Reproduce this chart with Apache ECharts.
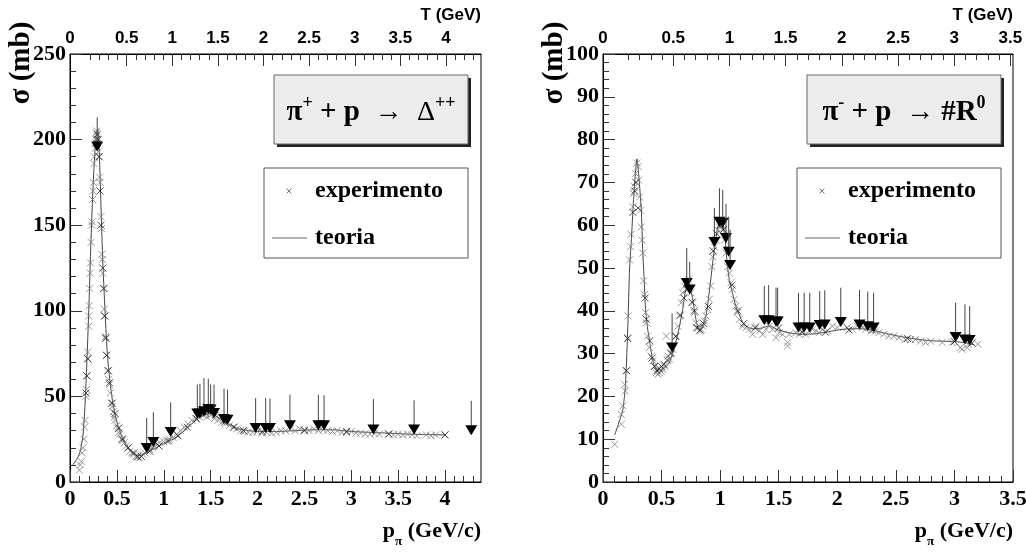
<!DOCTYPE html>
<html>
<head>
<meta charset="utf-8">
<script src="https://cdn.jsdelivr.net/npm/echarts@6/dist/echarts.min.js"></script>
<style>
  html, body { margin: 0; padding: 0; background: #fff; }
  #main { width: 1026px; height: 552px; }
</style>
</head>
<body>
<div id="main"></div>
<script>
// ---- pi+ p (left panel) ----
var theoryL = [[0.03,10],[0.08,14],[0.11,18],[0.14,28],[0.16,45],[0.18,70],[0.2,100],[0.22,135],[0.24,165],
  [0.26,188],[0.28,203],[0.295,206],[0.31,196],[0.33,162],[0.35,128],[0.37,104],[0.39,82],[0.41,67],[0.43,57],
  [0.46,45],[0.5,35],[0.55,27],[0.6,22],[0.65,18],[0.7,16],[0.75,15.5],[0.8,16.5],[0.9,19.5],[1.0,22.5],[1.1,25],
  [1.2,29],[1.3,34],[1.4,38.5],[1.5,40],[1.6,37],[1.7,33.5],[1.8,31],[1.9,30],[2.0,29.5],[2.2,29.5],[2.4,30],
  [2.6,30.5],[2.8,30.5],[3.0,29.5],[3.2,29],[3.4,28.5],[3.6,28],[3.8,27.7],[4.0,27.5]];
var expGrayL = [[0.10,7],[0.11,10],[0.12,12],[0.13,17],[0.14,20],[0.15,25],[0.155,32],[0.16,36],[0.17,50],[0.175,54],
  [0.18,62],[0.19,72],[0.19,76],[0.2,91],[0.2,97],[0.205,103],[0.21,113],[0.215,122],[0.22,128],[0.225,140],
  [0.23,150],[0.235,152],[0.24,165],[0.245,170],[0.25,175],[0.255,186],[0.26,190],[0.27,195],[0.275,200],[0.28,204],
  [0.285,205],[0.29,200],[0.30,198],[0.305,193],[0.31,190],[0.315,178],[0.32,175],[0.33,155],[0.335,148],[0.34,133],
  [0.345,130],[0.35,122],[0.36,113],[0.365,101],[0.37,97],[0.38,85],[0.385,84],[0.39,74],[0.40,65],[0.41,60],
  [0.42,57],[0.43,52],[0.44,46],[0.45,44],[0.46,41],[0.47,38],[0.48,36],[0.5,33],[0.51,31],[0.52,29],[0.53,28],
  [0.55,25],[0.56,24],[0.58,23],[0.6,21],[0.62,20],[0.64,18],[0.66,17],[0.68,16],[0.7,15],[0.72,14.5],[0.74,14],
  [0.76,15],[0.78,16],[0.8,17],[0.82,18],[0.85,19],[0.88,20],[0.9,21],[0.93,22],[0.96,23],[1.0,23.5],[1.03,24],
  [1.06,25],[1.1,26],[1.14,28],[1.18,30],[1.22,32],[1.26,34],[1.3,36],[1.34,37],[1.38,38],[1.42,39],[1.46,38],
  [1.5,39],[1.54,37],[1.58,36],[1.62,35],[1.66,34],[1.7,33],[1.74,32],[1.78,31],[1.82,30],[1.86,29.5],[1.9,29],
  [1.95,29],[2.0,29.5],[2.05,28.5],[2.1,29],[2.15,28.5],[2.2,29],[2.25,30],[2.3,30],[2.35,31],[2.4,30],[2.45,31],
  [2.5,30.5],[2.55,30],[2.6,31],[2.65,30],[2.7,30.5],[2.75,30],[2.8,29.5],[2.85,30],[2.9,29],[2.95,29],[3.0,29.5],
  [3.05,28.5],[3.1,28.5],[3.15,28],[3.2,28],[3.25,28.5],[3.3,28],[3.4,28],[3.45,27.5],[3.5,28],[3.55,27.5],[3.6,28],
  [3.65,27.5],[3.7,27],[3.8,27.5],[3.85,27],[3.9,27.5],[4.0,27.5]];
var expDarkL = [[0.17,52],[0.18,62],[0.19,72],[0.28,198],[0.29,203],[0.3,200],[0.31,190],[0.32,170],[0.33,150],
  [0.35,125],[0.36,113],[0.37,97],[0.38,84],[0.39,74],[0.41,65],[0.42,58],[0.45,46],[0.48,40],[0.52,31.5],[0.56,25],
  [0.62,20],[0.68,17],[0.72,15],[0.76,15],[0.85,18],[0.95,21],[1.05,24],[1.15,27],[1.25,32],[1.35,37],[1.45,40],
  [1.55,39],[1.65,35],[1.75,32],[1.85,30],[2.05,29.5],[2.5,30],[2.95,29.5],[3.4,28],[4.0,27.5]];
// [p, sigma, top of line]
var limitsL = [[0.29,196,213],[0.818,19.9,37.4],[0.889,23.4,40.7],[1.074,29.2,46.5],[1.358,40,56.9],[1.386,40,57.4],
  [1.429,41.3,60.7],[1.475,42.6,60.4],[1.5,42.3,56.9],[1.536,40.3,56.9],[1.643,36.8,54.5],[1.68,36.4,53.9],
  [1.98,31.5,49],[2.087,31.5,49],[2.133,31.5,48.7],[2.346,33.1,51],[2.649,33.1,51],[2.71,33.1,50.6],
  [3.236,30.6,48.5],[3.67,30.6,47.7],[4.28,30.2,47.5]];

// ---- pi- p (right panel) ----
var theoryR = [[0.1,11],[0.15,15],[0.17,17],[0.19,22],[0.205,31],[0.215,39],[0.227,50],[0.241,56],[0.261,66],
  [0.29,75.5],[0.307,71],[0.326,64],[0.34,53.5],[0.35,48],[0.363,40.5],[0.38,36],[0.397,33],[0.42,29],[0.44,27],
  [0.46,26],[0.483,25.9],[0.51,26.5],[0.54,27],[0.568,28],[0.6,30.5],[0.625,33],[0.65,36],[0.68,40.3],[0.7,44],
  [0.724,46.5],[0.745,45.5],[0.767,42.5],[0.79,38.5],[0.81,36],[0.823,35.7],[0.85,36.5],[0.88,39],[0.91,45],
  [0.94,52],[0.97,58],[1.0,61],[1.02,60.5],[1.04,57.5],[1.06,51],[1.08,47],[1.107,44],[1.135,41],[1.164,39],
  [1.2,37],[1.25,36],[1.3,35.8],[1.36,36],[1.42,36.5],[1.5,35.5],[1.6,34.8],[1.7,34.5],[1.8,34.6],[1.9,35],
  [2.0,35.5],[2.1,35.8],[2.2,35.8],[2.3,35.5],[2.4,34.8],[2.5,34.2],[2.6,33.7],[2.7,33.3],[2.8,33],[2.9,32.9],
  [3.0,32.8],[3.1,32.5],[3.17,32]];
var expGrayR = [[0.1,8.8],[0.156,13.5],[0.156,15.8],[0.17,17.8],[0.185,22.8],[0.19,21.3],[0.2,26],[0.213,33.7],
  [0.215,38.8],[0.227,51.9],[0.235,55],[0.24,57.9],[0.255,64.3],[0.26,67.4],[0.27,69],[0.278,72.1],[0.29,74.5],
  [0.3,73.7],[0.305,70.5],[0.312,66.6],[0.32,63.5],[0.326,59.6],[0.333,56.5],[0.34,53.5],[0.346,47],[0.355,43.8],
  [0.363,39.6],[0.37,37.2],[0.38,34.1],[0.397,31.4],[0.41,29.4],[0.425,28.3],[0.44,27.1],[0.455,25.5],[0.47,25.2],
  [0.483,25.5],[0.497,25.9],[0.51,26.3],[0.525,27.1],[0.54,34.1],[0.555,29.4],[0.568,28.7],[0.58,30.2],[0.595,31],
  [0.625,34.1],[0.64,36.4],[0.653,38.8],[0.667,41.9],[0.68,44.2],[0.695,45.8],[0.71,45],[0.73,47.4],[0.75,44.2],
  [0.767,41.9],[0.78,39.6],[0.795,37.2],[0.81,36],[0.823,35.3],[0.837,35.7],[0.851,36.4],[0.865,37.6],[0.88,38.8],
  [0.895,40.3],[0.908,42.7],[0.92,45.8],[0.93,50.3],[0.937,52.6],[0.951,54.9],[0.965,56.5],[0.98,58.9],[0.994,59.6],
  [1.008,60.4],[1.022,58.9],[1.036,56.5],[1.05,53.5],[1.064,50.3],[1.078,48.8],[1.093,46.6],[1.107,45],[1.121,42.7],
  [1.135,41.1],[1.15,39.6],[1.164,38],[1.19,36.4],[1.22,36.1],[1.25,35.7],[1.277,34.5],[1.306,36.4],[1.335,35.3],
  [1.363,34.5],[1.391,35.7],[1.42,36.4],[1.448,35.7],[1.477,33.7],[1.504,34.9],[1.533,34.5],[1.575,32.6],[1.575,31.8],
  [1.59,34.5],[1.646,34.9],[1.674,34.5],[1.703,35.3],[1.731,34.5],[1.76,35.3],[1.788,35.7],[1.816,35.3],[1.845,34.9],
  [1.873,35.7],[1.916,35.3],[1.958,36.4],[2.0,36.1],[2.043,37.2],[2.086,36.1],[2.128,35.7],[2.171,36.4],[2.214,36.1],
  [2.242,35.7],[2.285,35.3],[2.327,35.3],[2.355,34.9],[2.398,34.5],[2.44,34.1],[2.483,34.1],[2.526,33.7],[2.58,33.3],
  [2.625,33.3],[2.668,33.3],[2.71,32.9],[2.753,32.6],[2.796,32.9],[2.895,32.6],[2.98,32.6],[3.05,31.4],[3.065,31],
  [3.108,31.4],[3.12,32.2],[3.2,32.2]];
var expDarkR = [[0.2,26],[0.21,33.5],[0.255,63],[0.27,68],[0.28,70],[0.3,64],[0.36,43],[0.37,38],[0.4,33],[0.42,29],
  [0.44,27],[0.46,26],[0.48,26.5],[0.5,27],[0.52,27.5],[0.55,28.5],[0.58,30],[0.62,34],[0.66,39],[0.69,43],[0.72,45],
  [0.76,42],[0.78,40],[0.8,36],[0.83,35.5],[0.86,37],[0.9,41],[0.94,54],[0.97,58],[1.0,60],[1.03,59],[1.1,46],
  [1.15,40],[1.2,37],[1.3,36],[1.5,36],[1.7,35],[1.9,35],[2.1,35.5],[2.3,35.5],[2.6,33.5],[3.0,32.8],[3.15,32.5]];
var limitsR = [[0.59,31.4,39.4],[0.715,46.5,54.7],[0.74,45,51.4],[0.951,56.1,64],[0.994,60.8,68.6],[1.022,60.6,68.2],
  [1.05,57,65],[1.073,53.8,62],[1.085,50.7,58.9],[1.377,37.8,45.8],[1.414,37.8,46],[1.477,37.5,45.4],[1.491,37.5,45.4],
  [1.669,36.1,44.2],[1.717,36.1,44.2],[1.765,36.1,44.2],[1.85,36.7,44.6],[1.893,36.8,44.8],[2.03,37.4,45.4],
  [2.19,36.8,44.9],[2.26,36.4,44.5],[2.31,36.1,44.2],[3.01,33.9,41.9],[3.09,33.3,41.5],[3.13,33.2,41.1]];

// axis ranges and tick labels
var pRangeL = [0, 4.384], tRangeL = [-0.122, 4.384];
var pRangeR = [0, 3.5],   tRangeR = [-0.125, 3.523];
var pTicksL = [0, 0.5, 1, 1.5, 2, 2.5, 3, 3.5, 4];
var pTicksR = [0, 0.5, 1, 1.5, 2, 2.5, 3, 3.5];
var tTicksL = [0.5, 1, 1.5, 2, 2.5, 3, 3.5, 4];
var tTicksR = [0.5, 1, 1.5, 2, 2.5, 3, 3.5];

var SERIF = '"Liberation Serif", "DejaVu Serif", serif';
var SANS = '"Liberation Sans", Arial, sans-serif';

// minor ticks every 0.1 that are not majors
function minorsOf(majors, hi) {
  var out = [];
  for (var i = 1; i / 10 <= hi + 1e-9; i++) {
    var v = i / 10;
    if (majors.indexOf(v) >= 0) continue;
    out.push(v);
  }
  return out;
}

function axisPair(gi, pos, range, majors, minorHi, lab) {
  var base = { type: 'value', gridIndex: gi, position: pos, min: range[0], max: range[1], splitLine: { show: false } };
  var major = Object.assign({}, base, {
    axisLine: { show: true, onZero: false, lineStyle: { color: '#000', width: 1 } },
    axisTick: { show: true, inside: true, length: 12, customValues: majors, lineStyle: { color: '#333' } },
    axisLabel: lab
  });
  var minor = Object.assign({}, base, {
    axisLine: { show: false, onZero: false },
    axisTick: { show: true, inside: true, length: 6, customValues: minorsOf(majors, minorHi), lineStyle: { color: '#333' } },
    axisLabel: { show: false }
  });
  return [major, minor];
}

function bottomLab(vals) {
  return { customValues: vals, margin: 6, color: '#000', fontFamily: SERIF, fontWeight: 'bold', fontSize: 22,
    formatter: function (v) { return String(+v.toFixed(1)); } };
}
function topLab(vals, tmin) {
  return { customValues: [tmin].concat(vals), margin: 7, color: '#000', fontFamily: SANS, fontWeight: 'bold', fontSize: 17,
    formatter: function (v) { return v < 0.1 ? '0' : String(+v.toFixed(1)); } };
}

var xAxes = []
  .concat(axisPair(0, 'bottom', pRangeL, pTicksL, 4.3, bottomLab(pTicksL)))
  .concat(axisPair(0, 'top', tRangeL, tTicksL, 4.3, topLab(tTicksL, tRangeL[0])))
  .concat(axisPair(1, 'bottom', pRangeR, pTicksR, 3.4, bottomLab(pTicksR)))
  .concat(axisPair(1, 'top', tRangeR, tTicksR, 3.4, topLab(tTicksR, tRangeR[0])));

function yAx(gi, max, interval) {
  return {
    type: 'value', gridIndex: gi, min: 0, max: max, interval: interval,
    axisLine: { show: true, onZero: false, lineStyle: { color: '#000' } },
    axisTick: { show: true, inside: true, length: 12, lineStyle: { color: '#333' } },
    minorTick: { show: true, splitNumber: 5, length: 6, lineStyle: { color: '#333' } },
    splitLine: { show: false },
    axisLabel: { margin: 4, color: '#000', fontFamily: SERIF, fontWeight: 'bold', fontSize: 22 }
  };
}

var XSYM = 'path://M0,0L10,10M10,0L0,10';

function expSeries(data, xi, yi, color) {
  return { type: 'scatter', xAxisIndex: xi, yAxisIndex: yi, data: data, symbol: XSYM, symbolSize: 7,
    itemStyle: { color: 'none', borderColor: color, borderWidth: 1 }, silent: true, z: 3 };
}
function theorySeries(data, xi, yi) {
  return { type: 'line', xAxisIndex: xi, yAxisIndex: yi, data: data, showSymbol: false, smooth: 0.2,
    lineStyle: { color: '#444', width: 1 }, silent: true, z: 2 };
}
function limitSeries(data, xi, yi) {
  return {
    type: 'custom', xAxisIndex: xi, yAxisIndex: yi, data: data, z: 4, silent: true,
    renderItem: function (params, api) {
      var p = api.coord([api.value(0), api.value(1)]);
      var t = api.coord([api.value(0), api.value(2)]);
      return { type: 'group', children: [
        { type: 'line', shape: { x1: t[0], y1: t[1], x2: p[0], y2: p[1] }, style: { stroke: '#444', lineWidth: 1 } },
        { type: 'polygon', shape: { points: [[p[0] - 6, p[1] - 5], [p[0] + 6, p[1] - 5], [p[0], p[1] + 5]] },
          style: { fill: '#000' } }
      ] };
    }
  };
}

function titleBox(x, y, text) {
  return [
    { type: 'rect', shape: { x: x + 3, y: y + 3, width: 194, height: 69 }, style: { fill: '#222' }, z: 10 },
    { type: 'rect', shape: { x: x, y: y, width: 194, height: 69 }, style: { fill: '#ececec', stroke: '#666', lineWidth: 1 }, z: 11 },
    { type: 'text', x: x + 97, y: y + 35, z: 12, style: {
      text: text, align: 'center', verticalAlign: 'middle', fill: '#000',
      rich: {
        m: { fontFamily: SERIF, fontWeight: 'bold', fontSize: 29, lineHeight: 34, verticalAlign: 'bottom' },
        o: { fontFamily: SERIF, fontSize: 28, lineHeight: 34, verticalAlign: 'bottom' },
        s: { fontFamily: SERIF, fontWeight: 'bold', fontSize: 18, lineHeight: 34, verticalAlign: 'top', padding: [1, 0, 0, 0] }
      } } }
  ];
}
function legendBox(x, y) {
  var mx = x + 25, my = y + 23;
  return [
    { type: 'rect', shape: { x: x, y: y, width: 204, height: 90 }, style: { fill: '#fff', stroke: '#555', lineWidth: 1 }, z: 10 },
    { type: 'line', shape: { x1: mx - 2.5, y1: my - 2.5, x2: mx + 2.5, y2: my + 2.5 }, style: { stroke: '#777', lineWidth: 1 }, z: 11 },
    { type: 'line', shape: { x1: mx + 2.5, y1: my - 2.5, x2: mx - 2.5, y2: my + 2.5 }, style: { stroke: '#777', lineWidth: 1 }, z: 11 },
    { type: 'text', x: x + 51, y: my, z: 11, style: { text: 'experimento', font: 'bold 24px ' + SERIF, verticalAlign: 'middle', fill: '#000' } },
    { type: 'line', shape: { x1: x + 8, y1: y + 70, x2: x + 43, y2: y + 70 }, style: { stroke: '#666', lineWidth: 1 }, z: 11 },
    { type: 'text', x: x + 51, y: y + 70, z: 11, style: { text: 'teoria', font: 'bold 24px ' + SERIF, verticalAlign: 'middle', fill: '#000' } }
  ];
}
function axisTitles(left, right) {
  return [
    { type: 'text', x: right, y: 15, style: { text: 'T (GeV)', font: 'bold 17px ' + SANS, align: 'right', verticalAlign: 'middle', fill: '#000' } },
    { type: 'text', x: right, y: 534, style: {
      text: '{a|p}{s|π}{a| (GeV/c)}', align: 'right', verticalAlign: 'middle', fill: '#000',
      rich: { a: { fontFamily: SERIF, fontWeight: 'bold', fontSize: 22, lineHeight: 28, verticalAlign: 'top' },
              s: { fontFamily: SERIF, fontWeight: 'bold', fontSize: 13, lineHeight: 28, verticalAlign: 'bottom' } } } },
    { type: 'text', x: left - 48, y: 63, rotation: Math.PI / 2, style: { text: 'σ (mb)', font: 'bold 29px ' + SERIF, align: 'center', verticalAlign: 'middle', fill: '#000' } }
  ];
}

var graphics = []
  .concat(titleBox(274, 75, '{m|π}{s|+}{m| + p  }{o|→}{m|  }{o|Δ}{s|++}'))
  .concat(titleBox(807, 75, '{m|π}{s|-}{m| + p  }{o|→}{m| #R}{s|0}'))
  .concat(legendBox(264, 168))
  .concat(legendBox(797, 168))
  .concat(axisTitles(70, 481))
  .concat(axisTitles(603, 1013));

var chart = echarts.init(document.getElementById('main'), null, { renderer: 'canvas' });
chart.setOption({
  animation: false,
  backgroundColor: '#fff',
  grid: [
    { left: 70, right: 545, top: 54, bottom: 70, show: true, borderColor: '#000', borderWidth: 1, backgroundColor: '#fff', outerBoundsMode: 'none' },
    { left: 603, right: 13, top: 54, bottom: 70, show: true, borderColor: '#000', borderWidth: 1, backgroundColor: '#fff', outerBoundsMode: 'none' }
  ],
  xAxis: xAxes,
  yAxis: [yAx(0, 250, 50), yAx(1, 100, 10)],
  series: [
    theorySeries(theoryL, 0, 0),
    expSeries(expGrayL, 0, 0, '#7f7f7f'),
    expSeries(expDarkL, 0, 0, '#222'),
    limitSeries(limitsL, 0, 0),
    theorySeries(theoryR, 4, 1),
    expSeries(expGrayR, 4, 1, '#7f7f7f'),
    expSeries(expDarkR, 4, 1, '#222'),
    limitSeries(limitsR, 4, 1)
  ],
  graphic: graphics
});
</script>
</body>
</html>
